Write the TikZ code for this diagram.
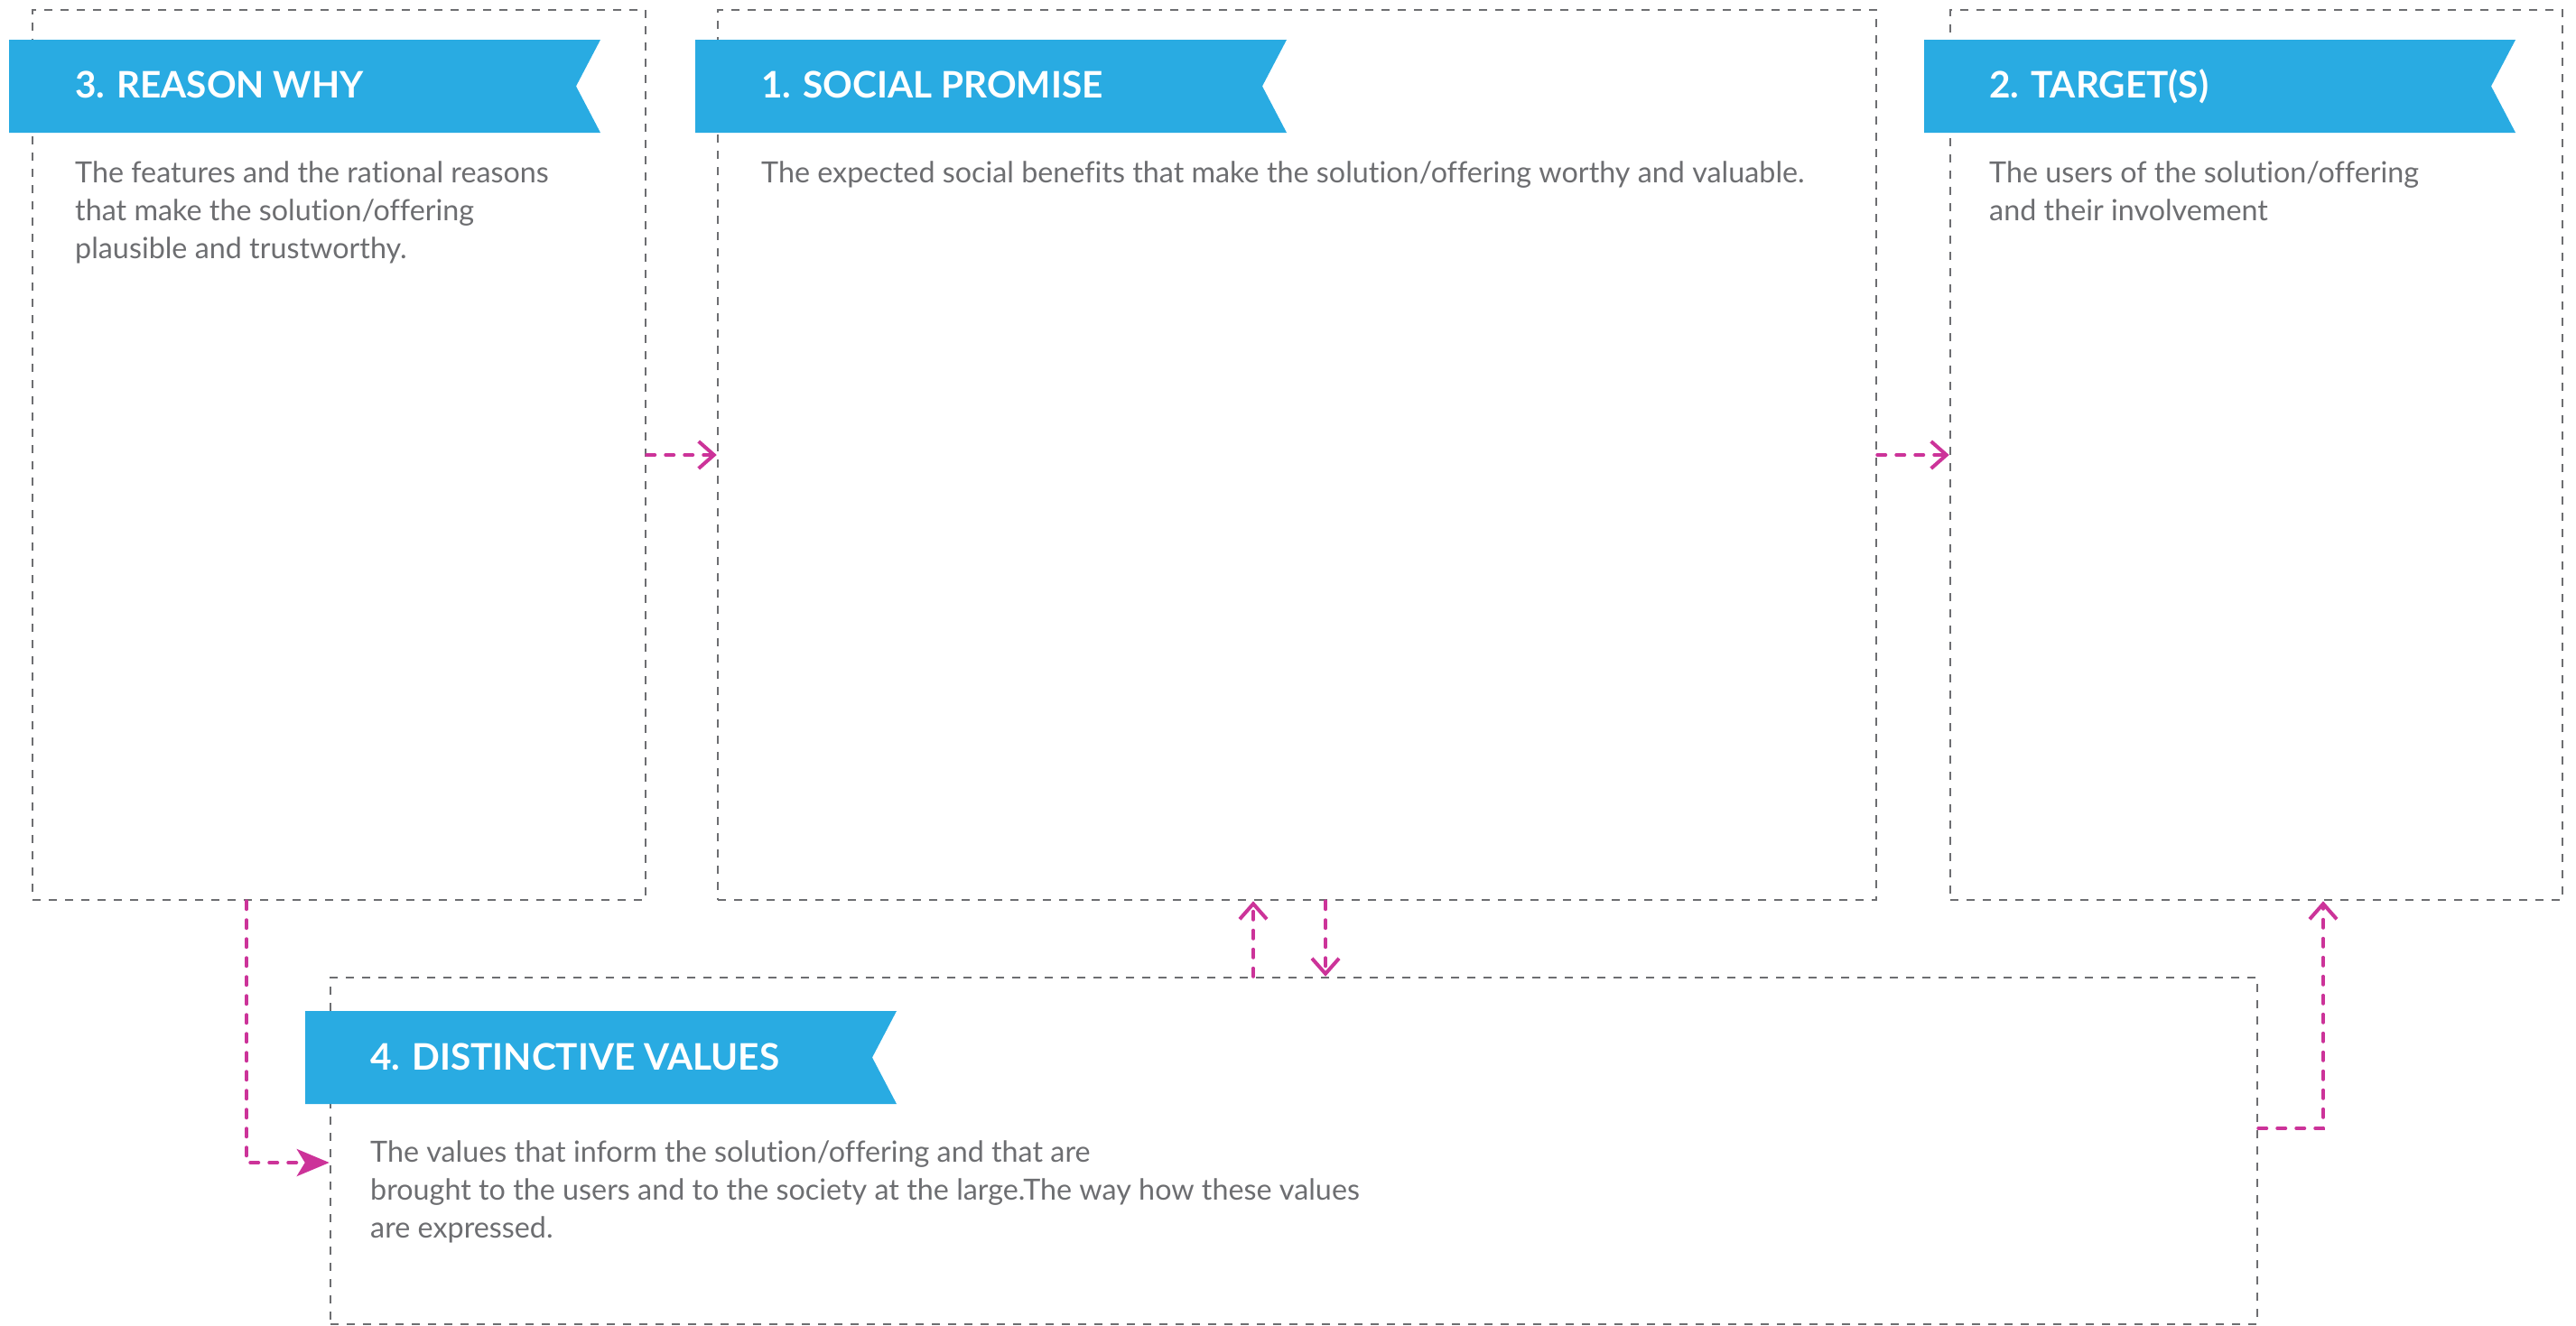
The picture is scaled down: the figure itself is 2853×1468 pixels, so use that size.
\documentclass[tikz,border=0pt]{standalone}
\usepackage{fontspec}
\setmainfont[Ligatures=NoCommon]{Lato}
\usetikzlibrary{arrows.meta}
\definecolor{dgray}{HTML}{6D6E71}
\definecolor{bblue}{HTML}{29ABE2}
\definecolor{mgnt}{HTML}{CC3399}
\tikzset{box/.style={draw=dgray, line width=2.5pt, dash pattern=on 9pt off 9pt, inner sep=0pt}}
\tikzset{flow/.style={mgnt, line width=4pt, line cap=round, dash pattern=on 9pt off 12pt,
    -{Straight Barb[length=17pt,width=30pt]}}}
\tikzset{flowf/.style={mgnt, line width=4pt, line cap=round, dash pattern=on 9pt off 12pt,
    -{Stealth[length=36pt,width=30pt,inset=9pt]}}}
\tikzset{ban/.style={fill=bblue}}
\tikzset{ttl/.style={anchor=base west, inner sep=0pt, text=white, font=\fontsize{40.5}{40}\bfseries\selectfont}}
\tikzset{txt/.style={anchor=base west, inner sep=0pt, text=dgray, align=left, font=\fontsize{32.3}{42}\selectfont}}

\begin{document}
\begin{tikzpicture}[x=1pt, y=-1pt]
  \useasboundingbox (0,0) rectangle (2853,1468);
  % boxes
  \node[box, minimum width=679pt, minimum height=986pt] (reason) at (375.5,504) {};
  \node[box, minimum width=1283pt, minimum height=986pt] (promise) at (1436.5,504) {};
  \node[box, minimum width=678pt, minimum height=986pt] (target) at (2499,504) {};
  \node[box, minimum width=2134pt, minimum height=384pt] (values) at (1433,1275) {};

  % banners
  \fill[ban] (10,44) -- ++(655,0) -- ++(-27,51.5) -- ++(27,51.5) -- ++(-655,0) -- cycle;
  \fill[ban] (770,44) -- ++(655,0) -- ++(-27,51.5) -- ++(27,51.5) -- ++(-655,0) -- cycle;
  \fill[ban] (2131,44) -- ++(655,0) -- ++(-27,51.5) -- ++(27,51.5) -- ++(-655,0) -- cycle;
  \fill[ban] (338,1120) -- ++(655,0) -- ++(-27,51.5) -- ++(27,51.5) -- ++(-655,0) -- cycle;

  % titles and texts (base = last line)
  \node[ttl] (reasonT) at (83,108) {3. REASON WHY};
  \node[txt] (reasonX) at (83,286) {The features and the rational reasons\\that make the solution/offering\\plausible and trustworthy.};
  \node[ttl] (promiseT) at (843,108) {1. SOCIAL PROMISE};
  \node[txt] (promiseX) at (843,202) {The expected social benefits that make the solution/offering worthy and valuable.};
  \node[ttl] (targetT) at (2203,108) {2. TARGET(S)};
  \node[txt] (targetX) at (2203,244) {The users of the solution/offering\\and their involvement};
  \node[ttl] (valuesT) at (410,1185) {4. DISTINCTIVE VALUES};
  \node[txt] (valuesX) at (410,1371) {The values that inform the solution/offering and that are\\brought to the users and to the society at the large.The way how these values\\are expressed.};

  % connectors
  \draw[flow] (reason.east) -- (promise.west);
  \draw[flow] (promise.east) -- (target.west);
  \draw[flow] ([xshift=-48.5pt]promise.south |- values.north) -- ([xshift=-48.5pt]promise.south);
  \draw[flow] ([xshift=31.5pt]promise.south) -- ([xshift=31.5pt]promise.south |- values.north);
  \draw[flowf] ([xshift=-102.5pt]reason.south) |- ([yshift=-13pt]values.west);
  \draw[flow] ([yshift=25pt]values.east) -| ([xshift=74pt]target.south);
\end{tikzpicture}
\end{document}
